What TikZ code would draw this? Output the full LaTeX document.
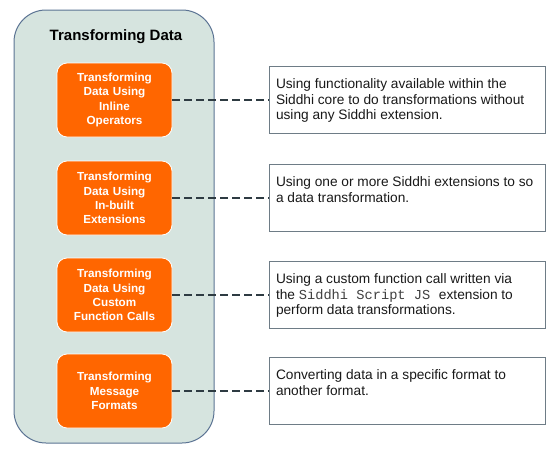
\documentclass[tikz,border=0pt]{standalone}
\usepackage{fontspec}
\setmainfont{Liberation Sans}
\setmonofont{Liberation Mono}

\definecolor{framefill}{HTML}{D6E4DF}
\definecolor{frameline}{HTML}{5B7393}
\definecolor{oporange}{HTML}{FF6600}
\definecolor{descline}{HTML}{6E7C86}
\definecolor{linkgrey}{HTML}{2E3B42}

\newcommand\opw{115pt}
\newcommand\oph{74pt}
\newcommand\opx{114.5}
\newcommand\descw{276pt}
\newcommand\desch{67pt}
\newcommand\descx{407}
\newcommand\desctext[1]{\parbox[c][42pt][t]{262pt}{\fontsize{13.7}{15.5}\selectfont #1}}

\tikzset{
  frame/.style={draw=frameline,fill=framefill,line width=1pt,rounded corners=32pt,
    minimum width=200pt,minimum height=433pt,inner sep=0pt},
  opbox/.style={draw=white,fill=oporange,line width=0.8pt,rounded corners=10pt,
    minimum width=\opw,minimum height=\oph,text width=105pt,align=center,
    text=white,font=\fontsize{11.7}{14.3}\selectfont\bfseries},
  descbox/.style={draw=descline,fill=white,line width=0.9pt,
    minimum width=\descw,minimum height=\desch,inner sep=0pt,text=black!90},
  link/.style={draw=linkgrey,line width=1.5pt,dash pattern=on 7.5pt off 4.5pt}
}

\begin{document}
\begin{tikzpicture}[x=1pt,y=-1pt]
    \useasboundingbox (0,0) rectangle (556,463);

    \node[frame] (frame) at (114,226.5) {};
    \node[font=\fontsize{15}{18}\selectfont\bfseries] (title) at (116,37) {Transforming Data};

    \node[opbox] (op1) at (\opx,100) {Transforming\\ Data Using\\ Inline\\ Operators};
    \node[opbox] (op2) at (\opx,198) {Transforming\\ Data Using\\ In-built\\ Extensions};
    \node[opbox] (op3) at (\opx,295) {Transforming\\ Data Using\\ Custom\\ Function Calls};
    \node[opbox] (op4) at (\opx,391) {Transforming\\ Message\\ Formats};

    \node[descbox] (desc1) at (\descx,100) {\desctext{Using functionality available within the\\ Siddhi core to do transformations without\\ using any Siddhi extension.}};
    \node[descbox] (desc2) at (\descx,198) {\desctext{Using one or more Siddhi extensions to so\\ a data transformation.}};
    \node[descbox] (desc3) at (\descx,295) {\desctext{Using a custom function call written via\\ the {\color{black!75}\ttfamily Siddhi Script JS}\hspace{0.35em} extension to\\ perform data transformations.}};
    \node[descbox] (desc4) at (\descx,391) {\desctext{Converting data in a specific format to\\ another format.}};

    \draw[link] (op1.east) -- (desc1.west);
    \draw[link] (op2.east) -- (desc2.west);
    \draw[link] (op3.east) -- (desc3.west);
    \draw[link] (op4.east) -- (desc4.west);
\end{tikzpicture}
\end{document}
